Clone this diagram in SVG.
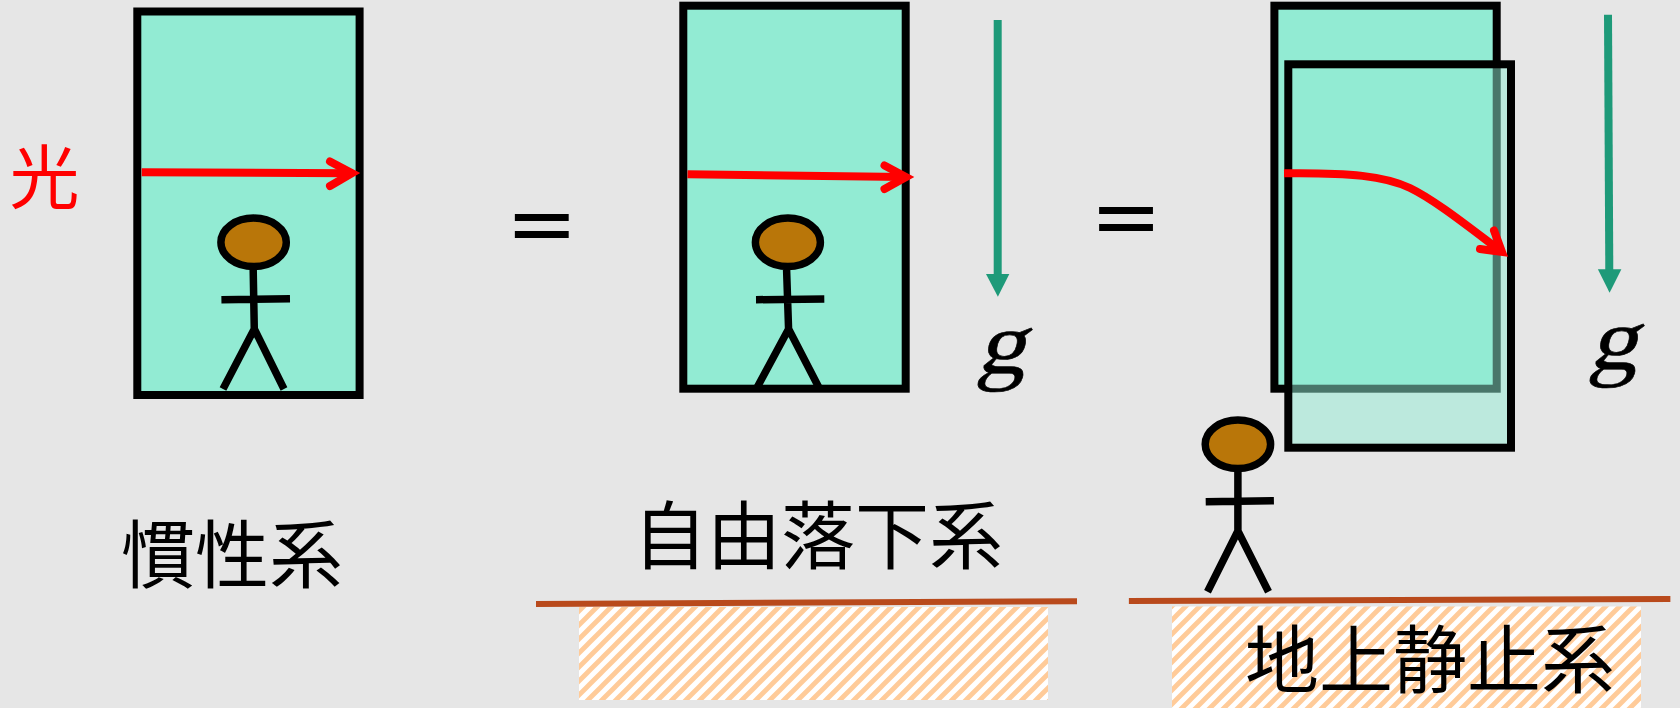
<svg xmlns="http://www.w3.org/2000/svg" width="1680" height="708" viewBox="0 0 1680 708">
  <style>
    .frame { fill: #92EBD3; stroke: #000; stroke-width: 8; }
    .frame-ghost { fill: rgba(146,235,211,0.5); stroke: #000; stroke-width: 8; }
    .head { fill: #B97609; stroke: #000; stroke-width: 7.5; }
    .limb { fill: none; stroke: #000; stroke-width: 7.5; stroke-linecap: butt; }
    .ray { fill: none; stroke: #FF0000; stroke-width: 8; }
    .ray-head { fill: none; stroke: #FF0000; stroke-width: 8; stroke-linecap: round; stroke-linejoin: miter; }
    .grav { stroke: #1E9A79; stroke-width: 8; }
    .grav-head { fill: #1E9A79; }
    .ground { stroke: #B94A1C; stroke-width: 6; }
    .label { font-family: "Noto Sans CJK JP", "Noto Sans CJK SC", sans-serif; font-size: 74px; fill: #000; text-anchor: middle; }
    .eq { font-family: "DejaVu Sans", sans-serif; font-size: 86px; fill: #000; text-anchor: middle; }
    .gsym { font-family: "Liberation Serif", serif; font-size: 88px; fill: #000; stroke: #000; stroke-width: 0.6; text-anchor: middle; }
  </style>
  <defs>
    <pattern id="hatch" patternUnits="userSpaceOnUse" width="14" height="14">
      <rect width="14" height="14" fill="#FFFFFF"/>
      <path d="M-3.5,3.5 L3.5,-3.5 M0,14 L14,0 M10.5,17.5 L17.5,10.5" stroke="#FFCB99" stroke-width="4.8"/>
    </pattern>
  </defs>

  <rect width="1680" height="708" fill="#E6E6E6"/>

  <!-- inertial frame -->
  <g id="inertial-frame">
    <rect class="frame" x="137.3" y="11.5" width="222.3" height="383.5"/>
    <text x="44.6" y="204" class="label" style="fill:#FF0000;font-size:70px">光</text>
    <g id="observer-1">
      <ellipse class="head" cx="253.6" cy="242.3" rx="32.7" ry="24.2"/>
      <path class="limb" d="M253.2,270 L254.3,330 M221.4,299.7 L290,298.7 M254.3,329 L223,389 M254.3,329 L284,389"/>
    </g>
    <text x="232" y="582" class="label">慣性系</text>
  </g>

  <text x="541.7" y="252.6" class="eq">=</text>

  <!-- free-fall frame -->
  <g id="freefall-frame">
    <rect class="frame" x="683.3" y="5.7" width="222.4" height="383"/>
    <g id="observer-2">
      <ellipse class="head" cx="787.9" cy="242.3" rx="32.5" ry="24.2"/>
      <path class="limb" d="M786.6,270 L788.6,330 M756,299.7 L824.3,299 M788.6,329 L757.5,386.7 M788.6,329 L818.5,386.7"/>
    </g>
    <g id="gravity-1">
      <line class="grav" x1="997.7" y1="20" x2="997.7" y2="276"/>
      <polygon class="grav-head" points="986,274 1009.3,274 997.9,296.7"/>
      <text class="gsym" transform="translate(1001,373) skewX(-14) scale(1.12,1)">g</text>
    </g>
    <text x="818" y="563" class="label">自由落下系</text>
    <line class="ground" x1="536" y1="604" x2="1077" y2="601.3"/>
    <rect x="579" y="607" width="469" height="93" fill="url(#hatch)"/>
  </g>

  <text x="1126" y="246.4" class="eq">=</text>

  <!-- frame seen from the ground -->
  <g id="ground-frame">
    <rect class="frame" x="1274.4" y="5.7" width="222.3" height="383"/>
    <rect class="frame-ghost" x="1288.3" y="64.3" width="222.7" height="383.4"/>
    <g id="gravity-2">
      <line class="grav" x1="1608" y1="14.7" x2="1609.3" y2="271"/>
      <polygon class="grav-head" points="1597.9,269.3 1621.4,269.3 1609.6,292.7"/>
      <text class="gsym" transform="translate(1613,368.5) skewX(-14) scale(1.12,1)">g</text>
    </g>
    <g id="observer-3">
      <ellipse class="head" cx="1237.9" cy="444.3" rx="32.7" ry="24.2"/>
      <path class="limb" d="M1237.9,472 L1237.9,532 M1205.7,501.7 L1273.9,500.7 M1237.9,531 L1207.5,591.7 M1237.9,531 L1268.5,591.7"/>
    </g>
    <line class="ground" x1="1128.9" y1="601" x2="1670.4" y2="599"/>
    <rect x="1172" y="606.5" width="469" height="101.5" fill="url(#hatch)"/>
    <text x="1430" y="687" class="label">地上静止系</text>
  </g>

  <!-- light rays -->
  <g id="rays">
    <path class="ray" d="M141.7,172.3 L351,173.2"/>
    <path class="ray-head" d="M330,161.5 L352,173.2 L330,186"/>
    <path class="ray" d="M687.5,174.3 L905,177"/>
    <path class="ray-head" d="M884.5,165.5 L906,177 L884.5,189"/>
    <path class="ray" d="M1284,173.3 C1350,172.5 1385,176 1410,188 C1435,200 1470,228 1502,252"/>
    <path class="ray-head" d="M1494,230.5 L1502,252 L1480,249"/>
  </g>
</svg>
